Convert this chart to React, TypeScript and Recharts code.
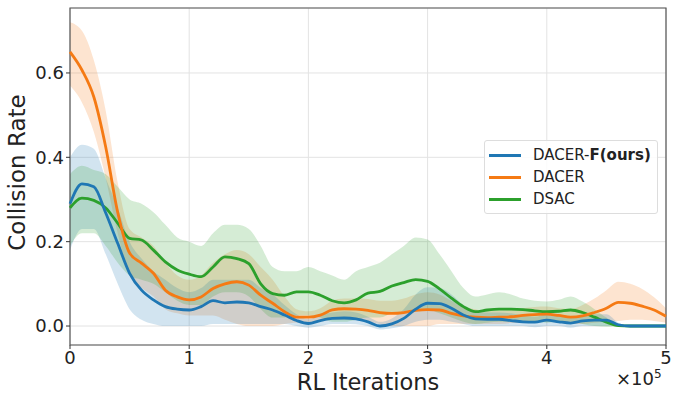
import { Area, CartesianGrid, ComposedChart, Line, ReferenceArea, XAxis, YAxis } from 'recharts';

// x in units of 1e5 RL iterations
const iterations = [
  0, 0.1, 0.2, 0.3, 0.4, 0.5, 0.6, 0.7, 0.8, 0.9,
  1, 1.1, 1.2, 1.3, 1.4, 1.5, 1.6, 1.7, 1.8, 1.9,
  2, 2.1, 2.2, 2.3, 2.4, 2.5, 2.6, 2.7, 2.8, 2.9,
  3, 3.1, 3.2, 3.3, 3.4, 3.5, 3.6, 3.7, 3.8, 3.9,
  4, 4.1, 4.2, 4.3, 4.4, 4.5, 4.6, 4.7, 4.8, 4.9, 5
];

const dacerFMean = [
  0.29, 0.337, 0.33, 0.268, 0.196, 0.125, 0.085, 0.062, 0.046, 0.04,
  0.038, 0.046, 0.06, 0.055, 0.057, 0.055, 0.046, 0.038, 0.026, 0.013,
  0.006, 0.013, 0.018, 0.019, 0.017, 0.01, 0.0, 0.005, 0.018, 0.04,
  0.054, 0.053, 0.042, 0.026, 0.017, 0.016, 0.016, 0.013, 0.01, 0.009,
  0.014, 0.01, 0.007, 0.012, 0.014, 0.014, 0.003, 0, 0, 0, 0
];
const dacerFLow = [
  0.18, 0.23, 0.23, 0.17, 0.1, 0.04, 0.015, 0.005, 0.0, 0.0,
  0.0, 0.0, 0.005, 0.005, 0.005, 0.005, 0.005, 0.005, 0.005, 0.0,
  -0.004, 0.0, 0.005, 0.005, 0.004, 0.0, -0.008, -0.005, 0.0, 0.01,
  0.015, 0.015, 0.01, 0.005, 0.0, 0.0, 0.0, 0.0, 0.0, -0.003,
  0.0, 0.0, -0.004, 0.0, 0.0, 0.0, 0.0, 0, 0, 0, 0
];
const dacerFHigh = [
  0.4, 0.43, 0.42, 0.35, 0.28, 0.2, 0.16, 0.13, 0.11, 0.09,
  0.08, 0.09, 0.11, 0.11, 0.11, 0.11, 0.09, 0.075, 0.05, 0.028,
  0.016, 0.026, 0.032, 0.035, 0.032, 0.022, 0.01, 0.018, 0.04, 0.075,
  0.092, 0.09, 0.075, 0.05, 0.035, 0.032, 0.032, 0.03, 0.025, 0.022,
  0.028, 0.024, 0.02, 0.026, 0.028, 0.028, 0.008, 0.001, 0.001, 0.001, 0.001
];

const dacerMean = [
  0.65, 0.607, 0.543, 0.424, 0.27, 0.173, 0.149, 0.125, 0.085, 0.069,
  0.062, 0.069, 0.089, 0.1, 0.105, 0.097, 0.073, 0.054, 0.034, 0.021,
  0.021, 0.026, 0.038, 0.041, 0.04, 0.037, 0.032, 0.03, 0.032, 0.037,
  0.039, 0.038, 0.03, 0.024, 0.021, 0.02, 0.021, 0.022, 0.025, 0.027,
  0.028, 0.025, 0.021, 0.024, 0.032, 0.042, 0.056, 0.054, 0.047, 0.038, 0.023
];
const dacerLow = [
  0.57, 0.53, 0.46, 0.35, 0.22, 0.12, 0.09, 0.07, 0.04, 0.03,
  0.025, 0.025, 0.025, 0.015, 0.005, 0.0, 0.0, 0.0, 0.005, 0.008,
  0.008, 0.01, 0.015, 0.015, 0.015, 0.01, 0.005, 0.0, 0.0, 0.0,
  0.0, 0.005, 0.005, 0.005, 0.005, 0.005, 0.005, 0.007, 0.008, 0.01,
  0.01, 0.008, 0.005, 0.005, 0.008, 0.01, 0.012, 0.015, 0.015, 0.012, 0.008
];
const dacerHigh = [
  0.72, 0.7, 0.63, 0.51, 0.34, 0.23, 0.21, 0.19, 0.15, 0.12,
  0.11, 0.12, 0.15, 0.17, 0.18, 0.17, 0.14, 0.11, 0.07, 0.04,
  0.035, 0.042, 0.06, 0.065, 0.065, 0.064, 0.06, 0.06, 0.065, 0.075,
  0.08, 0.075, 0.06, 0.045, 0.04, 0.035, 0.037, 0.038, 0.042, 0.045,
  0.046, 0.042, 0.04, 0.05, 0.065, 0.085, 0.105, 0.1, 0.088, 0.068, 0.042
];

const dsacMean = [
  0.28, 0.303, 0.298, 0.28, 0.244, 0.208, 0.204, 0.18, 0.152, 0.133,
  0.123, 0.117, 0.14, 0.164, 0.16, 0.148, 0.1, 0.077, 0.073, 0.081,
  0.081, 0.073, 0.06, 0.055, 0.062, 0.078, 0.082, 0.095, 0.103, 0.11,
  0.106, 0.088, 0.066, 0.046, 0.034, 0.038, 0.04, 0.04, 0.039, 0.036,
  0.034, 0.035, 0.038, 0.032, 0.021, 0.009, 0.001, 0, 0, 0, 0
];
const dsacLow = [
  0.19, 0.22, 0.22, 0.19, 0.15, 0.12, 0.11, 0.1, 0.08, 0.06,
  0.05, 0.05, 0.07, 0.08, 0.08, 0.07, 0.04, 0.02, 0.02, 0.025,
  0.025, 0.02, 0.01, 0.01, 0.015, 0.02, 0.02, 0.03, 0.035, 0.04,
  0.04, 0.03, 0.02, 0.01, 0.005, 0.008, 0.01, 0.01, 0.01, 0.01,
  0.008, 0.01, 0.01, 0.005, 0.0, -0.002, 0, 0, 0, 0, 0
];
const dsacHigh = [
  0.36, 0.38, 0.37, 0.36, 0.33, 0.3, 0.29, 0.27, 0.24, 0.21,
  0.2, 0.19, 0.22, 0.24, 0.24, 0.23, 0.19, 0.14, 0.13, 0.13,
  0.14, 0.13, 0.12, 0.11, 0.13, 0.14, 0.15, 0.17, 0.19, 0.21,
  0.205, 0.17, 0.13, 0.09, 0.07, 0.075, 0.08, 0.075, 0.065, 0.06,
  0.058, 0.062, 0.07, 0.058, 0.04, 0.02, 0.004, 0.001, 0.001, 0.001, 0.001
];

const xTicks = [0, 1, 2, 3, 4, 5];
const yTicks = [0, 0.2, 0.4, 0.6];

const BLUE = '#1f77b4';
const ORANGE = '#f57a14';
const GREEN = '#2ca02c';

const rows = iterations.map((x, i) => ({
  x,
  fMean: dacerFMean[i],
  fBand: [dacerFLow[i], dacerFHigh[i]],
  dMean: dacerMean[i],
  dBand: [dacerLow[i], dacerHigh[i]],
  sMean: dsacMean[i],
  sBand: [dsacLow[i], dsacHigh[i]]
}));

const legendItems = [
  { color: BLUE, label: 'DACER-', bold: 'F(ours)' },
  { color: ORANGE, label: 'DACER', bold: '' },
  { color: GREEN, label: 'DSAC', bold: '' }
];

const font = 'DejaVu Sans';
const tickStyle = { fill: '#222', fontSize: 18, fontFamily: font };

function YLabel({ viewBox }: any) {
  const cy = viewBox.y + viewBox.height / 2 - 4;
  return (
    <text x={25} y={cy} transform={`rotate(-90, 25, ${cy})`} textAnchor="middle" fill="#222" fontSize={23} fontFamily={font}>
      Collision Rate
    </text>
  );
}

export default function App() {
  return (
    <div style={{ position: 'absolute', left: 0, top: 0, width: 675, height: 396, background: '#fff' }}>
      <ComposedChart width={675} height={396} data={rows} margin={{ top: 8, right: 9, left: 10, bottom: 0 }}>
        <CartesianGrid stroke="#e3e3e3" strokeWidth={1} />
        <XAxis
          dataKey="x"
          type="number"
          domain={[0, 5]}
          ticks={xTicks}
          axisLine={false}
          tickLine={{ stroke: '#333' }}
          tickSize={4}
          tick={tickStyle}
          height={51}
          label={{
            value: 'RL Iterations',
            position: 'insideBottom',
            offset: 6,
            style: { fill: '#222', fontSize: 22.5, fontFamily: font }
          }}
        />
        <YAxis
          type="number"
          domain={[-0.045, 0.754]}
          ticks={yTicks}
          allowDataOverflow
          axisLine={false}
          tickLine={{ stroke: '#333' }}
          tickSize={4}
          tick={tickStyle}
          tickFormatter={v => v.toFixed(1)}
          width={60}
          label={<YLabel />}
        />
        <Area type="monotone" dataKey="dBand" stroke="none" fill={ORANGE} fillOpacity={0.2} isAnimationActive={false} />
        <Area type="monotone" dataKey="fBand" stroke="none" fill={BLUE} fillOpacity={0.2} isAnimationActive={false} />
        <Area type="monotone" dataKey="sBand" stroke="none" fill={GREEN} fillOpacity={0.2} isAnimationActive={false} />
        <Line type="monotone" dataKey="sMean" stroke={GREEN} strokeWidth={2.8} dot={false} isAnimationActive={false} />
        <Line type="monotone" dataKey="dMean" stroke={ORANGE} strokeWidth={2.8} dot={false} isAnimationActive={false} />
        <Line type="monotone" dataKey="fMean" stroke={BLUE} strokeWidth={2.8} dot={false} isAnimationActive={false} />
        <ReferenceArea x1={0} x2={5} y1={-0.045} y2={0.754} fill="none" stroke="#555" strokeWidth={1.2} ifOverflow="visible" />
      </ComposedChart>
      <div
        style={{
          position: 'absolute',
          left: 484,
          top: 140,
          width: 174,
          boxSizing: 'border-box',
          background: 'rgba(255,255,255,0.85)',
          border: '1px solid #ddd',
          borderRadius: 3,
          padding: '3px 4px',
          fontFamily: font,
          fontSize: 15,
          color: '#222',
          whiteSpace: 'nowrap'
        }}
      >
        {legendItems.map(item => (
          <div key={item.label} style={{ display: 'flex', alignItems: 'center', height: 22 }}>
            <span style={{ display: 'inline-block', width: 32, height: 3, background: item.color, marginRight: 12 }} />
            <span>
              {item.label}
              {item.bold && <b>{item.bold}</b>}
            </span>
          </div>
        ))}
      </div>
      <div
        style={{
          position: 'absolute',
          left: 616,
          top: 367,
          fontFamily: font,
          fontSize: 18,
          color: '#222'
        }}
      >
        ×10<sup style={{ fontSize: 12 }}>5</sup>
      </div>
    </div>
  );
}
